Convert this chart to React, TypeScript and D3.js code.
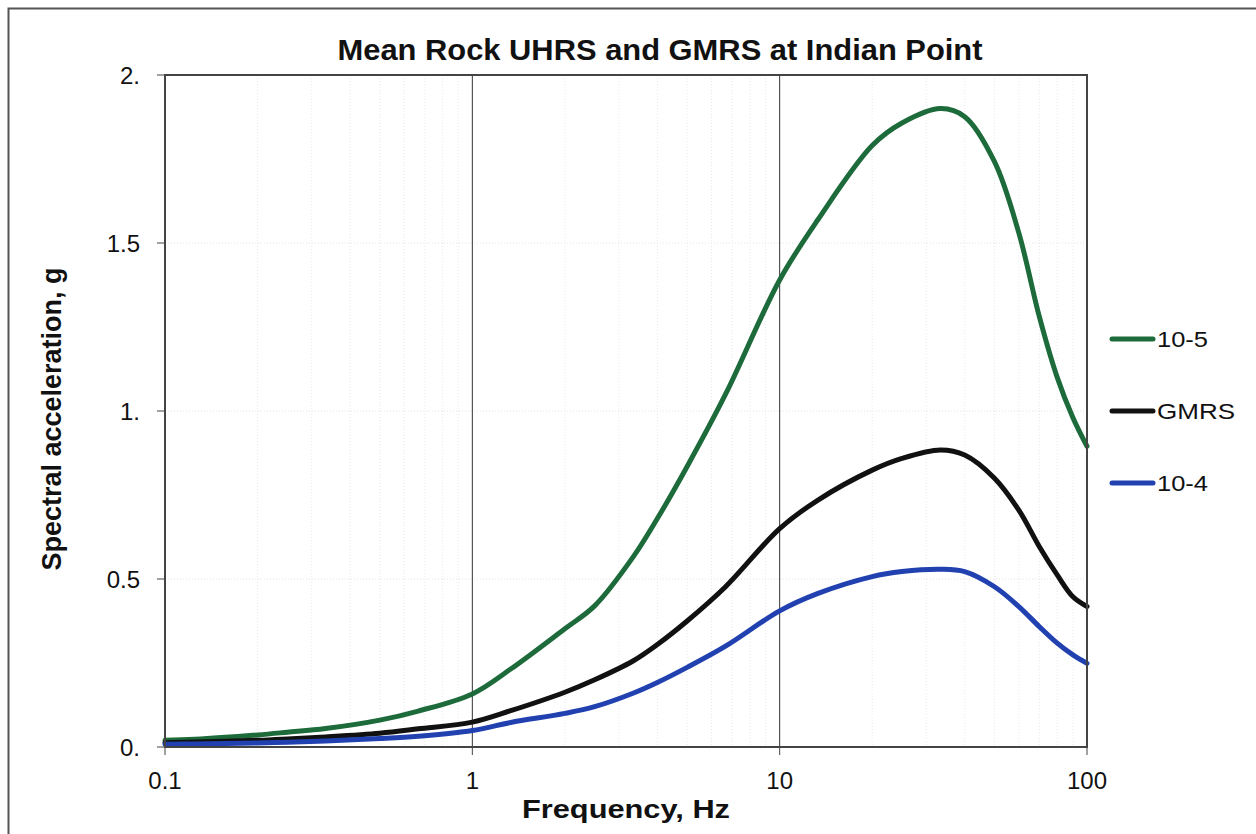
import React from 'react';
import * as d3 from 'd3';

// frequencies (Hz) and spectral accelerations (g)
const freqs = [0.1, 0.125, 0.2, 0.25, 0.333, 0.5, 0.667, 1, 1.333, 2, 2.5, 3.333, 4, 5, 6.667, 10, 13.33, 20, 25, 33.33, 40, 50, 60, 70, 80, 90, 100];
const uhrs1e5 = [0.02, 0.023, 0.036, 0.044, 0.055, 0.08, 0.107, 0.158, 0.232, 0.352, 0.42, 0.565, 0.68, 0.835, 1.05, 1.39, 1.57, 1.79, 1.857, 1.9, 1.876, 1.742, 1.53, 1.28, 1.1, 0.98, 0.895];
const gmrs = [0.013, 0.015, 0.02, 0.024, 0.03, 0.041, 0.054, 0.074, 0.108, 0.163, 0.2, 0.256, 0.305, 0.375, 0.477, 0.65, 0.735, 0.824, 0.859, 0.884, 0.869, 0.8, 0.705, 0.596, 0.512, 0.447, 0.418];
const uhrs1e4 = [0.008, 0.009, 0.012, 0.014, 0.018, 0.025, 0.032, 0.049, 0.073, 0.1, 0.12, 0.16, 0.192, 0.237, 0.3, 0.405, 0.457, 0.507, 0.522, 0.529, 0.522, 0.477, 0.418, 0.358, 0.309, 0.274, 0.249];

const seriesNames = ['10-5', 'GMRS', '10-4'];
const seriesColors = ['#1d6a3b', '#111111', '#2141b0'];
const xTicks = [0.1, 1, 10, 100];
const xTickLabels = ['0.1', '1', '10', '100'];
const yTicks = [0, 0.5, 1, 1.5, 2];
const yTickLabels = ['0.', '0.5', '1.', '1.5', '2.'];
const minorX = [0.2, 0.3, 0.4, 0.5, 0.6, 0.7, 0.8, 0.9, 2, 3, 4, 5, 6, 7, 8, 9, 20, 30, 40, 50, 60, 70, 80, 90];

const font = 'Arial, "Liberation Sans", sans-serif';

const App = () => {
  const margin = { top: 75, left: 165 };
  const plotW = 922;
  const plotH = 672;

  const x = d3.scaleLog().domain([0.1, 100]).range([0, plotW]);
  const y = d3.scaleLinear().domain([0, 2]).range([plotH, 0]);

  const allSeries = [uhrs1e5, gmrs, uhrs1e4];
  const line = d3.line<number>()
    .x((_, i) => x(freqs[i]))
    .y(d => y(d))
    .curve(d3.curveCatmullRom.alpha(0.5));

  const legendY = [339, 411, 483];
  const legendW = [51, 78, 51];

  return (
    <svg width={1256} height={834} style={{ position: 'absolute', left: 0, top: 0, background: '#fff' }}>
      {/* outer chart frame, only left/top visible */}
      <rect x={8.5} y={8.5} width={1300} height={900} fill="none" stroke="#555" strokeWidth={2} />

      <text x={660} y={60} textAnchor="middle" fontFamily={font} fontWeight="bold" fontSize={30} fill="#111"
        textLength={645} lengthAdjust="spacingAndGlyphs">
        Mean Rock UHRS and GMRS at Indian Point
      </text>

      <g transform={`translate(${margin.left},${margin.top})`}>
        {/* faint minor grid */}
        {minorX.map(f => (
          <line key={'mx' + f} x1={x(f)} x2={x(f)} y1={0} y2={plotH} stroke="#e6ebea" strokeWidth={1} strokeDasharray="1,2" />
        ))}
        {yTicks.slice(1, -1).map(v => (
          <line key={'gy' + v} x1={0} x2={plotW} y1={y(v)} y2={y(v)} stroke="#dde5e5" strokeWidth={1} strokeDasharray="1,2" />
        ))}
        {/* major vertical grid */}
        {xTicks.slice(1, -1).map(f => (
          <line key={'gx' + f} x1={x(f)} x2={x(f)} y1={0} y2={plotH} stroke="#333" strokeWidth={1} />
        ))}

        {/* series */}
        {allSeries.map((s, i) => (
          <path key={seriesNames[i]} d={line(s) || ''} fill="none" stroke={seriesColors[i]} strokeWidth={5} strokeLinejoin="round" strokeLinecap="round" />
        ))}

        {/* plot frame */}
        <rect x={0} y={0} width={plotW} height={plotH} fill="none" stroke="#444" strokeWidth={2} />

        {/* y axis ticks */}
        {yTicks.map((v, i) => (
          <g key={'yt' + v} transform={`translate(0,${y(v)})`}>
            <line x1={-8} x2={0} stroke="#444" strokeWidth={1} />
            <text x={-25} dy="0.36em" textAnchor="end" fontFamily={font} fontSize={24} fill="#111">{yTickLabels[i]}</text>
          </g>
        ))}

        {/* x axis ticks */}
        {xTicks.map((f, i) => (
          <g key={'xt' + f} transform={`translate(${x(f)},${plotH})`}>
            <line y1={0} y2={8} stroke="#444" strokeWidth={1} />
            <text y={42} textAnchor="middle" fontFamily={font} fontSize={24} fill="#111">{xTickLabels[i]}</text>
          </g>
        ))}
      </g>

      <text x={626} y={818} textAnchor="middle" fontFamily={font} fontWeight="bold" fontSize={25} fill="#111"
        textLength={208} lengthAdjust="spacingAndGlyphs">
        Frequency, Hz
      </text>
      <text transform="translate(61,419) rotate(-90)" textAnchor="middle" fontFamily={font} fontWeight="bold" fontSize={27} fill="#111">
        Spectral acceleration, g
      </text>

      {/* legend */}
      {seriesNames.map((name, i) => (
        <g key={'lg' + name} transform={`translate(1112,${legendY[i]})`}>
          <line x1={0} x2={41} stroke={seriesColors[i]} strokeWidth={5} strokeLinecap="round" />
          <text x={45} dy="0.36em" fontFamily={font} fontSize={22} fill="#111"
            textLength={legendW[i]} lengthAdjust="spacingAndGlyphs">{name}</text>
        </g>
      ))}
    </svg>
  );
};

export default App;
